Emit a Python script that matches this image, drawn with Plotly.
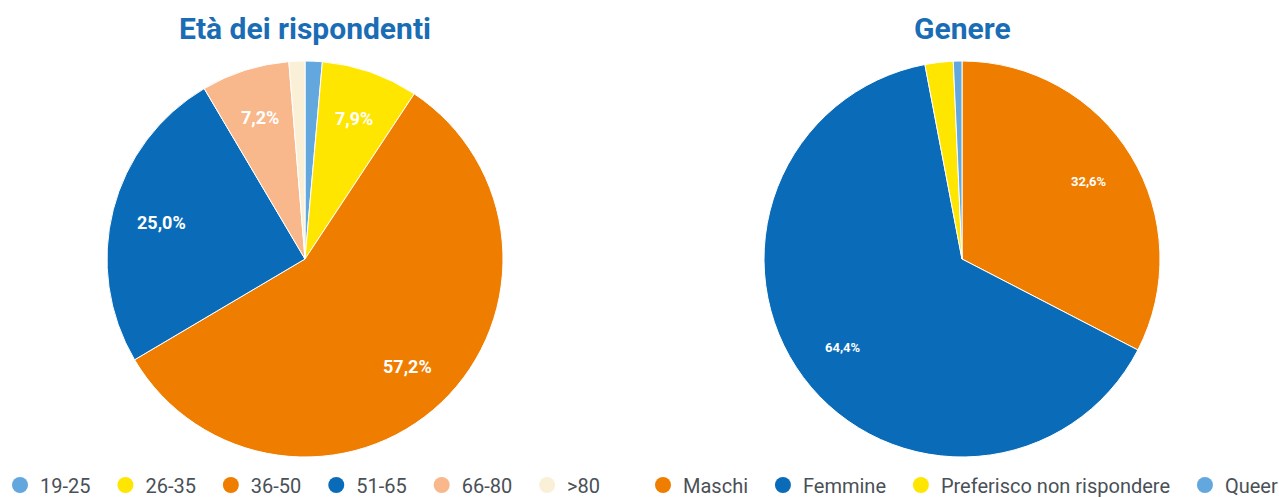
import math
import plotly.graph_objects as go

age_labels = ["19-25", "26-35", "36-50", "51-65", "66-80", ">80"]
age_values = [1.4, 7.9, 57.2, 25.0, 7.2, 1.3]
age_colors = ["#62A8DF", "#FFE600", "#EF7D00", "#0A6CB8", "#F8B88B", "#FAF0D7"]

gen_labels = ["Maschi", "Femmine", "Preferisco non rispondere", "Queer"]
gen_values = [32.6, 64.4, 2.3, 0.7]
gen_colors = ["#EF7D00", "#0A6CB8", "#FFE600", "#62A8DF"]

W, H = 1279, 497
R = 198
AGE_C = (305, 259)
GEN_C = (962, 259)


def dom(c):
    cx, cy = c
    return dict(x=[(cx - R) / W, (cx + R) / W], y=[(H - cy - R) / H, (H - cy + R) / H])


def label_annotations(values, center, size, min_show=5.0, frac=0.75):
    total = sum(values)
    cum = 0.0
    out = []
    cx, cy = center
    for v in values:
        mid = (cum + v / 2) / total
        cum += v
        if v < min_show:
            continue
        th = 2 * math.pi * mid
        x = cx + frac * R * math.sin(th)
        y = cy - frac * R * math.cos(th)
        out.append(dict(text="<b>" + f"{v:.1f}%".replace(".", ",") + "</b>",
                        x=x / W, y=1 - y / H, xref="paper", yref="paper",
                        showarrow=False, xanchor="center", yanchor="middle",
                        font=dict(family="Roboto", size=size, color="white")))
    return out


fig = go.Figure()
fig.add_trace(go.Pie(
    labels=age_labels, values=age_values, textinfo="none",
    sort=False, direction="clockwise", rotation=0,
    marker=dict(colors=age_colors, line=dict(color="white", width=1)),
    domain=dom(AGE_C), showlegend=False, hoverinfo="label+percent",
))
fig.add_trace(go.Pie(
    labels=gen_labels, values=gen_values, textinfo="none",
    sort=False, direction="clockwise", rotation=0,
    marker=dict(colors=gen_colors, line=dict(color="white", width=1)),
    domain=dom(GEN_C), showlegend=False, hoverinfo="label+percent",
))

pad = "\u00a0\u00a0"
for i, (lab, col) in enumerate(zip(age_labels, age_colors)):
    name = lab + (pad if i < len(age_labels) - 1 else "")
    fig.add_trace(go.Scatter(x=[None], y=[None], mode="markers", name=name,
                             marker=dict(symbol="circle", size=16, color=col),
                             legend="legend", showlegend=True, hoverinfo="skip"))
for i, (lab, col) in enumerate(zip(gen_labels, gen_colors)):
    name = lab + (pad if i < len(gen_labels) - 1 else "")
    fig.add_trace(go.Scatter(x=[None], y=[None], mode="markers", name=name,
                             marker=dict(symbol="circle", size=16, color=col),
                             legend="legend2", showlegend=True, hoverinfo="skip"))

legfont = dict(family="Roboto", size=20, color="#4a5057")
annots = [
    dict(text="<b>Età dei rispondenti</b>", x=305 / W, y=1 - 28 / H, xref="paper", yref="paper",
         showarrow=False, font=dict(family="Roboto", size=30, color="#1A6DB5"),
         xanchor="center", yanchor="middle"),
    dict(text="<b>Genere</b>", x=962 / W, y=1 - 28 / H, xref="paper", yref="paper",
         showarrow=False, font=dict(family="Roboto", size=30, color="#1A6DB5"),
         xanchor="center", yanchor="middle"),
]
annots += label_annotations(age_values, AGE_C, 18)
annots += label_annotations(gen_values, GEN_C, 13)

fig.update_layout(
    width=W, height=H,
    margin=dict(l=0, r=0, t=0, b=0, autoexpand=False),
    paper_bgcolor="white", plot_bgcolor="white",
    xaxis=dict(visible=False), yaxis=dict(visible=False),
    legend=dict(orientation="h", x=0, xanchor="left", y=12 / H, yanchor="middle",
                font=legfont, bgcolor="rgba(0,0,0,0)"),
    legend2=dict(orientation="h", x=643 / W, xanchor="left", y=12 / H, yanchor="middle",
                 font=legfont, bgcolor="rgba(0,0,0,0)"),
    annotations=annots,
)
fig.write_html("out.html", config={"displayModeBar": False},
               post_script="document.body.style.margin='0';")
